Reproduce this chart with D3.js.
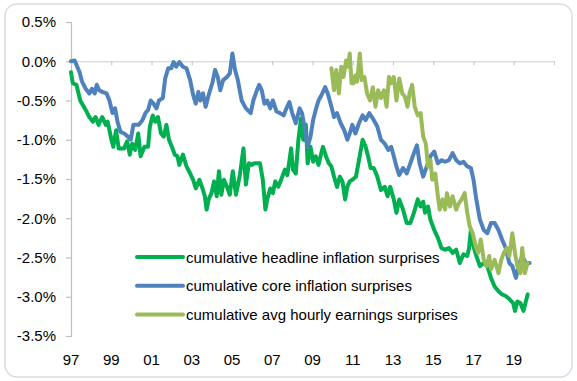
<!DOCTYPE html>
<html><head><meta charset="utf-8">
<script src="https://cdn.jsdelivr.net/npm/d3@7"></script>
<style>
html,body{margin:0;padding:0;background:#fff;}
svg{display:block;font-family:"Liberation Sans",Arial,sans-serif;}
</style></head>
<body><svg id="c" width="577" height="381"></svg>
<script>
const yTicks = [0.5, 0, -0.5, -1, -1.5, -2, -2.5, -3, -3.5];
const xTickYears = [1997, 1999, 2001, 2003, 2005, 2007, 2009, 2011, 2013, 2015, 2017, 2019];
const seriesNames = ["cumulative headline inflation surprises","cumulative core inflation surprises","cumulative avg hourly earnings surprises"];

const headline = [[1997.00,-0.14],[1997.09,-0.28],[1997.27,-0.30],[1997.46,-0.50],[1997.73,-0.62],[1997.91,-0.71],[1998.09,-0.77],[1998.22,-0.71],[1998.37,-0.81],[1998.55,-0.71],[1998.73,-0.81],[1998.82,-0.77],[1999.01,-1.00],[1999.10,-1.09],[1999.24,-0.88],[1999.37,-1.11],[1999.64,-1.11],[1999.79,-1.02],[1999.92,-1.19],[2000.04,-1.05],[2000.19,-1.13],[2000.34,-0.92],[2000.46,-1.21],[2000.65,-1.09],[2000.83,-1.09],[2000.92,-0.83],[2001.06,-0.69],[2001.19,-0.77],[2001.32,-0.71],[2001.47,-0.92],[2001.61,-0.96],[2001.74,-0.81],[2001.87,-1.00],[2002.01,-1.09],[2002.16,-1.19],[2002.29,-1.21],[2002.38,-1.32],[2002.56,-1.19],[2002.74,-1.34],[2002.92,-1.43],[2003.07,-1.51],[2003.20,-1.62],[2003.38,-1.51],[2003.51,-1.60],[2003.65,-1.72],[2003.74,-1.89],[2003.84,-1.76],[2003.98,-1.68],[2004.11,-1.53],[2004.24,-1.72],[2004.35,-1.40],[2004.47,-1.70],[2004.60,-1.51],[2004.75,-1.60],[2004.89,-1.70],[2005.04,-1.40],[2005.20,-1.70],[2005.39,-1.45],[2005.57,-1.11],[2005.69,-1.57],[2005.84,-1.30],[2005.99,-1.32],[2006.11,-1.30],[2006.39,-1.30],[2006.53,-1.51],[2006.66,-1.89],[2006.75,-1.76],[2006.90,-1.62],[2007.03,-1.68],[2007.15,-1.53],[2007.30,-1.60],[2007.44,-1.51],[2007.63,-1.38],[2007.75,-1.45],[2007.94,-1.11],[2008.03,-1.38],[2008.17,-1.43],[2008.30,-1.00],[2008.43,-0.73],[2008.54,-1.00],[2008.67,-0.81],[2008.76,-1.30],[2008.90,-1.09],[2009.03,-1.28],[2009.16,-1.21],[2009.30,-1.32],[2009.40,-1.21],[2009.52,-1.09],[2009.67,-1.21],[2009.81,-1.30],[2009.94,-1.34],[2010.07,-1.47],[2010.22,-1.60],[2010.36,-1.47],[2010.49,-1.53],[2010.62,-1.76],[2010.73,-1.60],[2010.85,-1.53],[2010.98,-1.51],[2011.16,-1.47],[2011.31,-1.26],[2011.49,-1.00],[2011.64,-1.09],[2011.76,-1.21],[2011.89,-1.36],[2012.04,-1.36],[2012.22,-1.47],[2012.40,-1.64],[2012.59,-1.60],[2012.73,-1.72],[2012.86,-1.60],[2013.04,-1.76],[2013.17,-1.93],[2013.31,-1.76],[2013.50,-1.89],[2013.68,-2.06],[2013.86,-2.06],[2014.04,-1.93],[2014.23,-1.76],[2014.37,-1.85],[2014.50,-1.79],[2014.59,-1.93],[2014.74,-1.85],[2014.86,-2.02],[2015.05,-2.15],[2015.23,-2.25],[2015.41,-2.38],[2015.59,-2.40],[2015.78,-2.38],[2015.96,-2.44],[2016.14,-2.40],[2016.32,-2.57],[2016.50,-2.46],[2016.69,-2.48],[2016.78,-2.38],[2016.87,-2.15],[2017.00,-2.36],[2017.14,-2.48],[2017.32,-2.61],[2017.51,-2.57],[2017.69,-2.61],[2017.87,-2.76],[2018.05,-2.87],[2018.24,-2.93],[2018.42,-2.97],[2018.60,-2.99],[2018.78,-3.03],[2018.97,-3.08],[2019.06,-3.18],[2019.18,-3.06],[2019.33,-3.08],[2019.48,-3.18],[2019.60,-3.06],[2019.69,-2.97]];

const core = [[1997.00,0.00],[1997.18,0.01],[1997.31,-0.07],[1997.42,-0.135],[1997.55,-0.26],[1997.73,-0.35],[1997.91,-0.41],[1998.04,-0.35],[1998.18,-0.41],[1998.28,-0.30],[1998.40,-0.37],[1998.55,-0.39],[1998.77,-0.41],[1998.91,-0.50],[1999.06,-0.66],[1999.19,-0.60],[1999.31,-0.77],[1999.46,-0.90],[1999.64,-0.92],[1999.83,-0.96],[1999.97,-1.00],[2000.10,-0.81],[2000.37,-0.81],[2000.55,-0.75],[2000.70,-0.66],[2000.83,-0.62],[2000.96,-0.50],[2001.10,-0.54],[2001.25,-0.60],[2001.37,-0.50],[2001.56,-0.47],[2001.68,-0.22],[2001.83,-0.09],[2001.98,-0.09],[2002.10,-0.01],[2002.23,-0.07],[2002.38,-0.01],[2002.56,-0.07],[2002.74,-0.09],[2002.92,-0.24],[2003.07,-0.43],[2003.20,-0.54],[2003.33,-0.39],[2003.43,-0.50],[2003.56,-0.41],[2003.69,-0.58],[2003.84,-0.43],[2004.02,-0.28],[2004.16,-0.11],[2004.29,-0.20],[2004.42,-0.37],[2004.56,-0.24],[2004.75,-0.20],[2004.89,-0.155],[2005.02,0.10],[2005.15,-0.11],[2005.29,-0.24],[2005.48,-0.50],[2005.69,-0.60],[2005.93,-0.66],[2006.06,-0.50],[2006.21,-0.39],[2006.35,-0.30],[2006.48,-0.37],[2006.61,-0.54],[2006.75,-0.50],[2006.90,-0.60],[2007.03,-0.50],[2007.21,-0.64],[2007.39,-0.66],[2007.57,-0.69],[2007.70,-0.60],[2007.85,-0.52],[2007.99,-0.66],[2008.17,-0.79],[2008.36,-0.60],[2008.48,-0.66],[2008.61,-0.85],[2008.76,-1.09],[2008.90,-0.96],[2009.03,-0.75],[2009.16,-0.62],[2009.30,-0.50],[2009.45,-0.43],[2009.63,-0.33],[2009.76,-0.41],[2009.94,-0.58],[2010.07,-0.71],[2010.22,-0.66],[2010.40,-0.79],[2010.58,-0.88],[2010.73,-1.00],[2010.85,-0.92],[2010.98,-0.81],[2011.13,-0.92],[2011.31,-0.79],[2011.49,-0.69],[2011.64,-0.75],[2011.82,-0.66],[2012.00,-0.73],[2012.22,-0.83],[2012.40,-1.00],[2012.59,-1.05],[2012.77,-1.13],[2012.91,-1.09],[2013.04,-1.21],[2013.17,-1.34],[2013.31,-1.45],[2013.50,-1.36],[2013.68,-1.43],[2013.86,-1.30],[2014.04,-1.17],[2014.19,-1.07],[2014.32,-1.30],[2014.50,-1.47],[2014.68,-1.34],[2014.86,-1.21],[2015.05,-1.15],[2015.23,-1.30],[2015.41,-1.26],[2015.59,-1.28],[2015.78,-1.26],[2015.96,-1.17],[2016.14,-1.26],[2016.32,-1.30],[2016.50,-1.28],[2016.69,-1.34],[2016.87,-1.36],[2017.00,-1.51],[2017.14,-1.76],[2017.32,-2.02],[2017.51,-2.15],[2017.69,-2.19],[2017.87,-2.06],[2018.05,-2.06],[2018.24,-2.15],[2018.42,-2.27],[2018.60,-2.38],[2018.78,-2.57],[2018.93,-2.61],[2019.11,-2.76],[2019.24,-2.61],[2019.42,-2.48],[2019.60,-2.57],[2019.79,-2.57]];

const ahe = [[2009.94,-0.09],[2010.07,-0.37],[2010.18,-0.11],[2010.31,-0.41],[2010.43,-0.07],[2010.54,-0.20],[2010.67,0.01],[2010.76,-0.07],[2010.85,0.10],[2010.94,-0.28],[2011.04,-0.28],[2011.13,-0.18],[2011.22,-0.26],[2011.35,0.10],[2011.45,-0.24],[2011.58,-0.20],[2011.71,-0.41],[2011.86,-0.50],[2012.00,-0.33],[2012.13,-0.58],[2012.26,-0.37],[2012.40,-0.47],[2012.55,-0.37],[2012.68,-0.58],[2012.80,-0.20],[2012.91,-0.28],[2013.04,-0.20],[2013.17,-0.50],[2013.31,-0.22],[2013.46,-0.41],[2013.59,-0.45],[2013.72,-0.58],[2013.82,-0.41],[2013.95,-0.30],[2014.08,-0.58],[2014.23,-0.69],[2014.37,-0.66],[2014.50,-0.96],[2014.63,-1.05],[2014.74,-1.34],[2014.86,-1.26],[2014.95,-1.51],[2015.10,-1.43],[2015.23,-1.72],[2015.32,-1.89],[2015.46,-1.76],[2015.59,-1.89],[2015.68,-1.68],[2015.83,-1.85],[2015.96,-1.72],[2016.14,-1.89],[2016.27,-1.81],[2016.41,-1.76],[2016.56,-1.68],[2016.69,-1.93],[2016.81,-2.10],[2016.96,-2.19],[2017.11,-2.36],[2017.23,-2.44],[2017.36,-2.27],[2017.51,-2.53],[2017.65,-2.61],[2017.78,-2.48],[2017.87,-2.65],[2018.05,-2.53],[2018.24,-2.70],[2018.38,-2.53],[2018.51,-2.44],[2018.66,-2.38],[2018.78,-2.48],[2018.93,-2.19],[2019.06,-2.44],[2019.18,-2.61],[2019.33,-2.70],[2019.42,-2.38],[2019.55,-2.70],[2019.69,-2.57]];

const colors = ["#00b050", "#4f81bd", "#9bbb59"];
const allSeries = [headline, core, ahe];

const svg = d3.select("#c");
svg.append("rect").attr("x",5).attr("y",4).attr("width",567).attr("height",373)
  .attr("rx",12).attr("fill","#fff").attr("stroke","#d5dde5").attr("stroke-width",1.5);

const x = d3.scaleLinear().domain([1997, 2021]).range([71, 554]);
const y = d3.scaleLinear().domain([-3.5, 0.5]).range([336, 22]);

// y axis
const yAxis = svg.append("g").attr("transform","translate(71,0)")
  .call(d3.axisLeft(y).tickValues(yTicks).tickSize(5).tickPadding(10)
    .tickFormat(d => d.toFixed(1) + "%"));
yAxis.select(".domain").attr("stroke","#bfbfbf").attr("stroke-width",1.2);
yAxis.selectAll(".tick line").attr("stroke","#bfbfbf").attr("stroke-width",1.2);
yAxis.selectAll("text").attr("font-size",15).attr("fill","#000")
  .attr("font-family","'Liberation Sans',Arial,sans-serif");

// x axis at zero
const xAxis = svg.append("g").attr("transform",`translate(0,${y(0)})`)
  .call(d3.axisBottom(x).tickValues(xTickYears.slice(1)).tickSize(4).tickFormat(""));
xAxis.select(".domain").attr("stroke","#d0d0d0").attr("stroke-width",1.2);
xAxis.selectAll(".tick line").attr("stroke","#c8c8c8").attr("stroke-width",1.2);

// x labels at bottom
svg.append("g").selectAll("text").data(xTickYears).join("text")
  .attr("x", d => x(d)).attr("y", 365).attr("text-anchor","middle")
  .attr("font-size",15).attr("fill","#000")
  .text(d => String(d).slice(2));

// lines
const line = d3.line().x(d => x(d[0])).y(d => y(d[1]));
allSeries.forEach((s,i) => {
  svg.append("path").datum(s).attr("d", line).attr("fill","none")
    .attr("stroke", colors[i]).attr("stroke-width",4)
    .attr("stroke-linejoin","round").attr("stroke-linecap","round");
});

// legend
const lg = svg.append("g");
seriesNames.forEach((n,i) => {
  const yy = 257 + i*28.8;
  lg.append("line").attr("x1",137).attr("x2",183).attr("y1",yy).attr("y2",yy)
    .attr("stroke",colors[i]).attr("stroke-width",4).attr("stroke-linecap","round");
  lg.append("text").attr("x",186).attr("y",yy+5.5).attr("font-size",15).attr("fill","#000").text(n);
});
</script></body></html>
